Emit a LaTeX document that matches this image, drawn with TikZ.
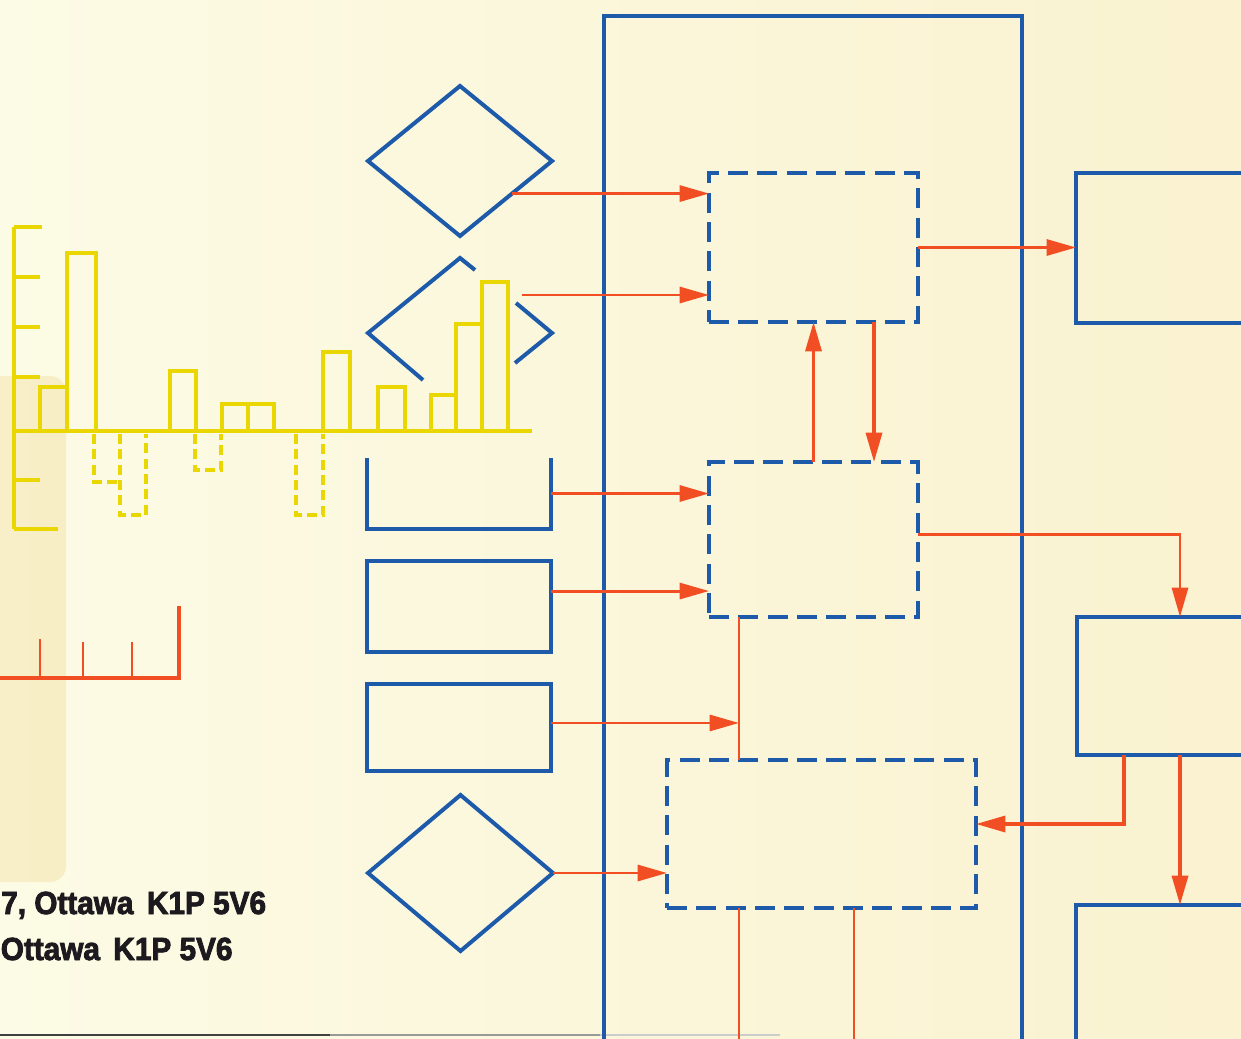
\documentclass[tikz,border=0pt]{standalone}
\usepackage{fontspec}
\setmainfont{Liberation Sans}
\newfontfamily\lblfont[FakeBold=2.6,FakeStretch=0.93]{Liberation Sans Bold}
\usetikzlibrary{arrows.meta,shapes.geometric,calc}
\definecolor{bgl}{RGB}{252,251,229}
\definecolor{bgr}{RGB}{250,242,208}
\definecolor{tape}{RGB}{245,226,170}
\definecolor{ablue}{RGB}{29,91,170}
\definecolor{ared}{RGB}{241,78,35}
\definecolor{ayel}{RGB}{234,214,0}
\definecolor{ink}{RGB}{28,26,30}
\tikzset{
  yl/.style={draw=ayel, line width=2.6pt},
  ydash/.style={yl, dash pattern=on 7.5pt off 4pt},
  rline/.style={draw=ared, line width=2.2pt},
  arr/.style={rline, -{Triangle[length=22pt,width=12pt]}},
  bpath/.style={draw=ablue, line width=3pt},
  sbox/.style={rectangle, draw=ablue, line width=3pt, inner sep=0pt, outer sep=0pt},
  bigbox/.style={sbox, line width=2.4pt},
  dbox/.style={sbox, line width=3pt, dash pattern=on 15pt off 7pt},
  dia/.style={diamond, draw=ablue, line width=3pt, inner sep=0pt, outer sep=0pt},
  blank/.style={rectangle, inner sep=0pt, outer sep=0pt},
  lbl/.style={anchor=base west, inner sep=0pt, text=ink, font=\lblfont\fontsize{24}{28}\selectfont}
}
\begin{document}
\begin{tikzpicture}[x=0.75pt,y=-0.75pt]
\useasboundingbox (0,0) rectangle (1241,1038);
\clip (0,0) rectangle (1241,1038);
\shade[left color=bgl,right color=bgr] (0,0) rectangle (1241,1038);
% tape strip
\fill[tape, opacity=0.5, rounded corners=12pt] (-20,376) rectangle (66,882);
% bottom edge line
\draw[line width=1.5pt, black!75] (0,1035) -- (330,1035);
\draw[line width=1.2pt, black!40] (330,1035) -- (600,1035);
\draw[line width=1pt, black!20] (600,1035) -- (780,1035);

% yellow chart
\draw[yl] (14,227) -- (14,529);
\draw[yl] (14,227) -- (42,227);
\draw[yl] (14,277) -- (40,277);
\draw[yl] (14,327) -- (40,327);
\draw[yl] (14,377) -- (40,377);
\draw[yl] (14,480) -- (40,480);
\draw[yl] (14,529) -- (58,529);
\draw[yl] (14,431) -- (532,431);
\draw[yl] (40,387) rectangle (67,431);
\draw[yl] (67,253) rectangle (96,431);
\draw[yl] (170,371) rectangle (196,431);
\draw[yl] (222,404) rectangle (248,431);
\draw[yl] (248,404) rectangle (274,431);
\draw[yl] (323,352) rectangle (350,431);
\draw[yl] (378,387) rectangle (405,431);
\draw[yl] (431,395) rectangle (456,431);
\draw[yl] (456,324) rectangle (482,431);
\draw[yl] (482,282) rectangle (508,431);
\draw[ydash] (94,434) -- (94,482) -- (120,482);
\draw[ydash] (120,434) -- (120,515) -- (146,515) -- (146,434);
\draw[ydash] (195,434) -- (195,470) -- (221,470) -- (221,434);
\draw[ydash] (296,434) -- (296,515) -- (323,515) -- (323,434);

% red ruler
\draw[rline, line width=2.5pt] (0,678) -- (179,678) -- (179,606);
\draw[rline] (40,678) -- (40,639);
\draw[rline] (83,678) -- (83,642);
\draw[rline] (132,678) -- (132,642);

% big frame and right boxes
\node[bigbox, minimum width=313.5pt, minimum height=813pt] (big) at (813,558) {};
\node[sbox, minimum width=168pt, minimum height=112.5pt] (r1) at (1188,248) {};
\node[sbox, minimum width=167.25pt, minimum height=103.5pt] (r2) at (1188.5,686) {};
\node[sbox, minimum width=168pt, minimum height=146.25pt] (r3) at (1188,1002.5) {};

% dashed boxes
\node[dbox, minimum width=156.75pt, minimum height=111.75pt] (d1) at (813.5,247.5) {};
\node[dbox, minimum width=156.75pt, minimum height=116.25pt] (d2) at (813.5,539.5) {};
\node[dbox, minimum width=231.75pt, minimum height=111pt] (d3) at (821.5,834) {};

% left shapes
\node[dia, minimum width=138pt, minimum height=112.5pt] (dia1) at (460,161) {};
\coordinate (dia2) at (460,333);
\draw[bpath] ($(dia2)+(-37,47)$) -- ($(dia2)+(-92,0)$) -- ($(dia2)+(0,-75)$) -- ($(dia2)+(15,-63)$);
\draw[bpath] ($(dia2)+(56,-30)$) -- ($(dia2)+(92,0)$) -- ($(dia2)+(55,30)$);
\node[blank, minimum width=138pt, minimum height=53.25pt] (u) at (459,493.5) {};
\draw[bpath] (u.north west) -- (u.south west) -- (u.south east) -- (u.north east);
\node[sbox, minimum width=138pt, minimum height=68.25pt] (b4) at (459,606.5) {};
\node[sbox, minimum width=138pt, minimum height=65.25pt] (b5) at (459,727.5) {};
\node[dia, minimum width=138.75pt, minimum height=117pt] (dia3) at (460.5,873) {};

% connectors
\coordinate (a2s) at (522,295);
\coordinate (a4) at ([yshift=11.6pt]b4.east);
\coordinate (a5) at ([yshift=3.4pt]b5.east);
\coordinate (a7) at ([yshift=4.1pt]d2.east);
\coordinate (a8) at ([yshift=7.5pt]d3.east);
\coordinate (v1) at (739,0);
\coordinate (v2) at (874,0);
\coordinate (v3) at (1180,0);
\coordinate (v4) at (1124,0);
\coordinate (e1) at (739,1050);
\coordinate (e2) at (854,1050);

\draw[arr] (dia1.-32.6) -- (dia1.-32.6 -| d1.west);
\draw[arr] (a2s) -- (a2s -| d1.west);
\draw[arr] (u.east) -- (u.east -| d2.west);
\draw[arr] (a4) -- (a4 -| d2.west);
\draw[rline] (d2.south -| v1) -- (d3.north -| v1);
\draw[arr] (a5) -- (a5 -| v1);
\draw[arr] (dia3.east) -- (dia3.east -| d3.west);
\draw[arr] (d1.east) -- (d1.east -| r1.west);
\draw[arr, line width=2.5pt] (d2.north) -- (d1.south);
\draw[arr, line width=2.5pt] (d1.south -| v2) -- (d2.north -| v2);
\draw[arr] (a7) -| (v3 |- r2.north);
\draw[arr, line width=2.5pt] (v4 |- r2.south) |- (a8);
\draw[arr, line width=2.5pt] (v3 |- r2.south) -- (v3 |- r3.north);
\draw[rline] (d3.south -| e1) -- (e1);
\draw[rline] (d3.south -| e2) -- (e2);

% text
\node[lbl] (t1) at (1,914) {7, Ottawa\hspace{0.42em}K1P 5V6};
\node[lbl] (t2) at (0.5,960) {Ottawa\hspace{0.42em}K1P 5V6};
\end{tikzpicture}
\end{document}
